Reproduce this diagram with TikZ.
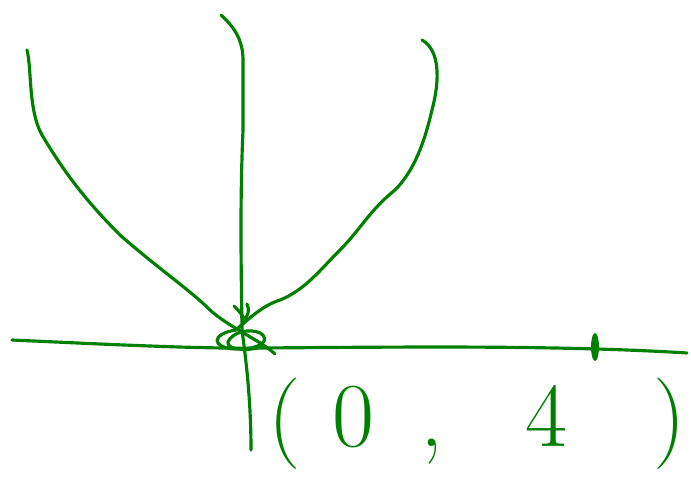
\documentclass[tikz,border=0pt]{standalone}
\usepackage{xcolor}
\usepackage{tikz}
\usetikzlibrary{
arrows.meta,
calc
}
\definecolor{inkgreen}{RGB}{0,128,0}

\begin{document}
\begin{tikzpicture}[
  x=0.02cm, y=-0.02cm,
  ink/.style={inkgreen, line width=1.8pt, line cap=round, line join=round},
  handtext/.style={inkgreen, font=\fontsize{52}{52}\selectfont, inner sep=0pt}
]

\useasboundingbox (0,0) rectangle (691,484);

%% ── AXES ─────────────────────────────────────────────
%% horizontal axis
\draw[ink] (12,340) .. controls (100,344) and (200,349) .. (260,348)
  .. controls (400,347) and (560,345) .. (687,353);
%% vertical axis
\draw[ink] (221,15) .. controls (232,25) and (243,38) .. (243,60)
  -- (243,130) .. controls (240,200) and (241,260) .. (242,330)
  .. controls (246,360) and (251,400) .. (251,450);

%% ── CURVES ───────────────────────────────────────────
%% left branch
\draw[ink] (27,50) .. controls (32,70) and (28,110) .. (42,135)
  .. controls (60,165) and (80,195) .. (120,235)
  .. controls (160,270) and (190,290) .. (210,310)
  .. controls (230,328) and (260,340) .. (275,354);
%% right branch
\draw[ink] (422,40) .. controls (440,50) and (440,80) .. (432,110)
  .. controls (425,140) and (415,170) .. (395,190)
  .. controls (370,210) and (360,230) .. (340,250)
  .. controls (320,270) and (305,290) .. (280,300)
  .. controls (262,306) and (250,318) .. (238,328);

%% ── MARKS ────────────────────────────────────────────
%% scribble at the origin
\draw[ink] (234,306) .. controls (240,312) and (244,316) .. (245,322);
\draw[ink] (247,304) .. controls (250,310) and (248,316) .. (244,320);
\draw[ink] (236,330) .. controls (210,334) and (212,348) .. (235,349)
  .. controls (260,350) and (272,340) .. (260,333)
  .. controls (250,328) and (232,332) .. (228,342)
  .. controls (226,350) and (250,352) .. (262,346);
%% point on the axis
\fill[inkgreen] (595,347) ellipse (4 and 14);

%% ── LABEL ────────────────────────────────────────────
\node[handtext, anchor=west] (pointlabel) at (268,424)
  {(\hspace{0.35em}0\hspace{0.5em},\hspace{0.9em}4\hspace{0.95em})};

\end{tikzpicture}
\end{document}
